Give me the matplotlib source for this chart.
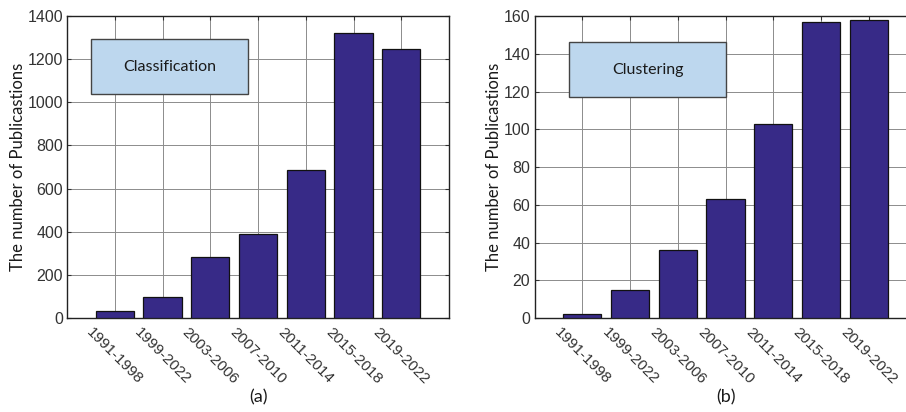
import numpy as np
import matplotlib
matplotlib.use('Agg')
import matplotlib.pyplot as plt
from matplotlib.patches import Rectangle

periods = ['1991-1998', '1999-2022', '2003-2006', '2007-2010',
           '2011-2014', '2015-2018', '2019-2022']
classification = [35, 97, 285, 388, 688, 1320, 1248]
clustering = [2, 15, 36, 63, 103, 157, 158]

barColor = '#372a87'
boxColor = '#bdd7ee'
tickFont = 'Liberation Sans'
textFont = ['Lato', 'DejaVu Sans']

fig = plt.figure(figsize=(9.06, 4.12), dpi=100)

def drawPanel(rect, values, ymax, ystep, boxText, boxX, boxY, tag):
    ax = fig.add_axes(rect)
    x = np.arange(1, len(values) + 1)
    ax.bar(x, values, width=0.8, color=barColor, edgecolor='#111111',
           linewidth=0.9, zorder=3)
    ax.set_xlim(0, 8)
    ax.set_ylim(0, ymax)
    ax.set_xticks(x)
    # rotated labels, centred under each bar
    ax.set_xticklabels(periods, rotation=-45, ha='center', va='top',
                       fontsize=11, family=tickFont, color='#1a1a1a')
    ax.set_yticks(np.arange(0, ymax + 1, ystep))
    for lab in ax.get_yticklabels():
        lab.set_family(tickFont)
        lab.set_fontsize(11.5)
        lab.set_color('#1a1a1a')
    ax.tick_params(direction='in', length=3, width=0.8, top=True,
                   right=True, pad=3, colors='#333333')
    ax.tick_params(axis='x', pad=5)
    ax.grid(True, color='#8c8c8c', linewidth=0.7, zorder=0)
    for s in ax.spines.values():
        s.set_linewidth(1.0)
        s.set_color('#222222')
    ax.set_ylabel('The number of Publicastions', fontsize=12,
                  family=textFont, color='#1a1a1a', labelpad=1)

    # label box in the upper left
    box = Rectangle((boxX[0], boxY[0]), boxX[1] - boxX[0], boxY[1] - boxY[0],
                    facecolor=boxColor, edgecolor='#444444', linewidth=1.0,
                    zorder=4)
    ax.add_patch(box)
    ax.text((boxX[0] + boxX[1]) / 2, (boxY[0] + boxY[1]) / 2, boxText,
            ha='center', va='center', fontsize=11.5, family=textFont,
            color='#1a1a1a', zorder=5)

    fig.text(rect[0] + rect[2] / 2, 0.035, tag, ha='center', va='center',
             fontsize=13, family=textFont, color='#1a1a1a')
    return ax

drawPanel([0.074, 0.228, 0.4216, 0.733], classification, 1400, 200,
          'Classification', (0.5, 3.79), (1040, 1292), '(a)')
drawPanel([0.590, 0.228, 0.4216, 0.733], clustering, 160, 20,
          'Clustering', (0.72, 4.02), (117, 146), '(b)')

fig.savefig('out.png', dpi=100)
